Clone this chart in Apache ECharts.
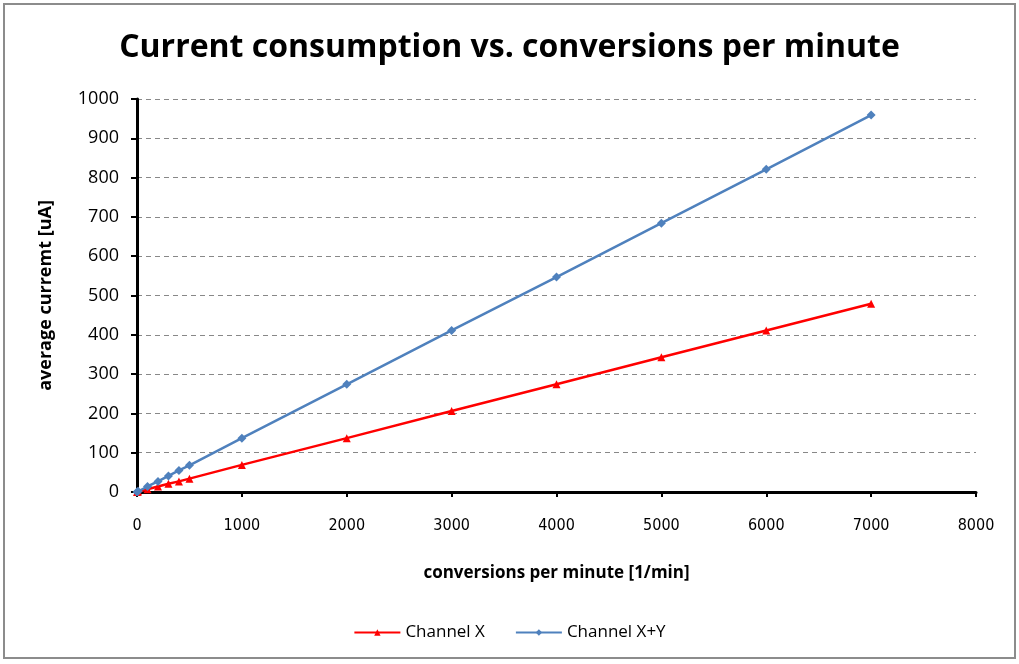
<!DOCTYPE html>
<html>
<head>
<meta charset="utf-8">
<script src="https://cdn.jsdelivr.net/npm/echarts@6/dist/echarts.min.js"></script>
<style>
  html, body { margin: 0; padding: 0; background: #fff; }
  #frame { position: absolute; left: 3px; top: 3px; width: 1013px; height: 656px; border: 2px solid #8c8c8c; box-sizing: border-box; }
  #chart { position: absolute; left: 0; top: 0; width: 1019px; height: 664px; }
</style>
</head>
<body>
<div id="frame"></div>
<div id="chart"></div>
<script>
// conversions per minute
const conversions = [0, 10, 100, 200, 300, 400, 500, 1000, 2000, 3000, 4000, 5000, 6000, 7000];
// average current [uA]
const channelX  = [0, 1, 7, 14, 21, 27, 34, 69, 137, 206, 274, 343, 411, 479];
const channelXY = [0, 2, 14, 27, 41, 55, 68, 137, 274, 411, 547, 684, 821, 959];

const font = '"Open Sans", sans-serif';
const narrow = '"DejaVu Sans Condensed", "Liberation Sans Narrow", "Open Sans", sans-serif';

const chart = echarts.init(document.getElementById('chart'), null, { renderer: 'canvas' });
chart.setOption({
  animation: false,
  backgroundColor: 'transparent',
  title: {
    text: 'Current consumption vs. conversions per minute',
    left: 'center',
    top: 27,
    textStyle: { fontFamily: font, fontSize: 32, fontWeight: 'bold', color: '#000' }
  },
  legend: {
    bottom: 18,
    left: 'center',
    itemWidth: 46,
    itemHeight: 8,
    itemGap: 30,
    textStyle: { fontFamily: font, fontSize: 17, color: '#000' },
    data: ['Channel X', 'Channel X+Y']
  },
  grid: { left: 137, right: 43, top: 99, bottom: 172 },
  xAxis: {
    type: 'value',
    min: 0, max: 8000, interval: 1000,
    name: 'conversions per minute [1/min]',
    nameLocation: 'middle',
    nameGap: 73,
    nameTextStyle: { fontFamily: font, fontSize: 17, fontWeight: 'bold', color: '#000' },
    axisLine: { lineStyle: { color: '#000', width: 3 } },
    axisTick: { show: true, length: 5, lineStyle: { color: '#000', width: 2 } },
    axisLabel: { fontFamily: narrow, fontSize: 16, color: '#000', margin: 26, formatter: v => String(v) },
    splitLine: { show: false }
  },
  yAxis: {
    type: 'value',
    min: 0, max: 1000, interval: 100,
    name: 'average curremt [uA]',
    nameLocation: 'middle',
    nameGap: 82,
    nameTextStyle: { fontFamily: font, fontSize: 18, fontWeight: 'bold', color: '#000' },
    axisLine: { show: true, lineStyle: { color: '#000', width: 3 } },
    axisTick: { show: true, length: 6, lineStyle: { color: '#000', width: 2 } },
    axisLabel: { fontFamily: font, fontSize: 18, color: '#000', margin: 18, formatter: v => String(v) },
    splitLine: { show: true, lineStyle: { color: '#888', width: 1, type: [5, 4] } }
  },
  series: [
    {
      name: 'Channel X',
      type: 'line',
      data: conversions.map((c, i) => [c, channelX[i]]),
      symbol: 'triangle',
      symbolSize: 8,
      itemStyle: { color: '#ff0000' },
      lineStyle: { color: '#ff0000', width: 2.5 }
    },
    {
      name: 'Channel X+Y',
      type: 'line',
      data: conversions.map((c, i) => [c, channelXY[i]]),
      symbol: 'diamond',
      symbolSize: 9,
      itemStyle: { color: '#4f81bd' },
      lineStyle: { color: '#4f81bd', width: 2.5 }
    }
  ]
});
</script>
</body>
</html>
